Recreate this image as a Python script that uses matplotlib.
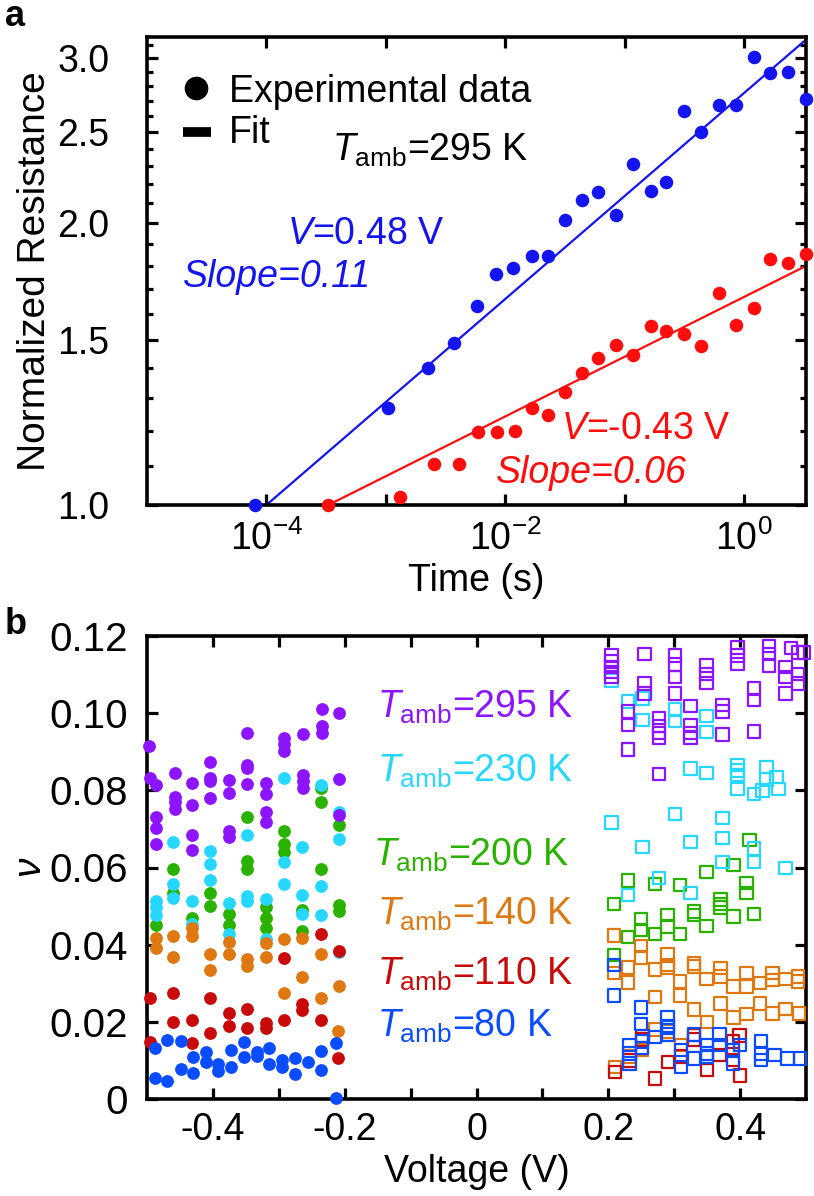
import matplotlib
matplotlib.use('Agg')
import matplotlib.pyplot as plt
from matplotlib.ticker import FixedLocator, NullLocator, NullFormatter

plt.rcParams['font.family'] = ['Liberation Sans', 'DejaVu Sans']
plt.rcParams['mathtext.fontset'] = 'custom'
plt.rcParams['mathtext.rm'] = 'Liberation Sans'
plt.rcParams['mathtext.it'] = 'Liberation Sans:italic'
plt.rcParams['mathtext.bf'] = 'Liberation Sans:bold'

# ---- panel a : normalized resistance vs time (log-log) ----
t_blue = [8.1e-5, 1.05e-3, 2.24e-3, 3.7e-3, 5.75e-3, 8.3e-3, 1.17e-2, 1.66e-2, 2.29e-2, 3.16e-2,
          4.37e-2, 6.03e-2, 8.5e-2, 0.117, 0.166, 0.224, 0.316, 0.437, 0.617, 0.851,
          1.20, 1.66, 2.34, 3.31]
R_blue = [1.00, 1.268, 1.401, 1.490, 1.630, 1.766, 1.789, 1.844, 1.846, 2.014,
          2.118, 2.157, 2.039, 2.314, 2.162, 2.210, 2.634, 2.500, 2.673, 2.673,
          3.005, 2.893, 2.900, 2.710]
t_red = [3.3e-4, 1.32e-3, 2.51e-3, 4.07e-3, 5.89e-3, 8.5e-3, 1.2e-2, 1.66e-2, 2.29e-2, 3.16e-2,
         4.37e-2, 6.03e-2, 8.5e-2, 0.117, 0.166, 0.224, 0.316, 0.437, 0.617, 0.851,
         1.20, 1.66, 2.34, 3.31]
R_red = [1.00, 1.020, 1.107, 1.107, 1.196, 1.196, 1.199, 1.268, 1.249, 1.321,
         1.385, 1.434, 1.482, 1.447, 1.554, 1.535, 1.524, 1.478, 1.683, 1.557,
         1.624, 1.829, 1.811, 1.852]
fit_t_blue = [1e-4, 3.3]
fit_R_blue = [1.0, 3.14]
fit_t_red = [3.3e-4, 3.3]
fit_R_red = [1.0, 1.80]

# ---- panel b : nu vs voltage, one pair of lists per temperature ----
v_neg_295 = [-0.497, -0.495, -0.487, -0.487, -0.487, -0.487, -0.458, -0.458, -0.458, -0.458,
             -0.432, -0.432, -0.432, -0.432, -0.404, -0.404, -0.404, -0.404, -0.376, -0.376,
             -0.376, -0.376, -0.348, -0.348, -0.348, -0.348, -0.320, -0.320, -0.320, -0.320,
             -0.292, -0.292, -0.292, -0.264, -0.264, -0.264, -0.264, -0.235, -0.235, -0.235,
             -0.209, -0.209, -0.209]
nu_neg_295 = [0.0916, 0.0833, 0.0814, 0.0732, 0.0703, 0.0662, 0.0846, 0.0782, 0.0769, 0.0752,
              0.0820, 0.0763, 0.0685, 0.0645, 0.0873, 0.0833, 0.0825, 0.0779, 0.0826, 0.0793,
              0.0694, 0.0679, 0.0949, 0.0865, 0.0857, 0.0816, 0.0818, 0.0790, 0.0745, 0.0718,
              0.0936, 0.0919, 0.0902, 0.0947, 0.0839, 0.0825, 0.0807, 0.1011, 0.0967, 0.0949,
              0.1000, 0.0829, 0.0736]
v_pos_295 = [0.205, 0.205, 0.205, 0.205, 0.205, 0.255, 0.255, 0.255, 0.230, 0.230,
             0.230, 0.301, 0.301, 0.301, 0.301, 0.277, 0.277, 0.277, 0.277, 0.277,
             0.325, 0.325, 0.325, 0.325, 0.349, 0.349, 0.349, 0.373, 0.373, 0.373,
             0.396, 0.396, 0.396, 0.421, 0.421, 0.421, 0.444, 0.444, 0.444, 0.469,
             0.469, 0.469, 0.488, 0.488, 0.488, 0.477, 0.497]
nu_pos_295 = [0.1149, 0.1134, 0.1119, 0.1106, 0.1094, 0.1153, 0.1077, 0.1051, 0.1004, 0.0970,
              0.0906, 0.1149, 0.1126, 0.1094, 0.1051, 0.0987, 0.0966, 0.0949, 0.0936, 0.0843,
              0.1019, 0.0970, 0.0949, 0.0936, 0.1123, 0.1102, 0.1078, 0.1021, 0.1004, 0.0945,
              0.1170, 0.1149, 0.1128, 0.1064, 0.1034, 0.0953, 0.1174, 0.1153, 0.1123, 0.1119,
              0.1094, 0.1051, 0.1157, 0.1102, 0.1077, 0.1169, 0.1157]

v_neg_230 = [-0.487, -0.487, -0.487, -0.460, -0.460, -0.460, -0.432, -0.432, -0.404, -0.404,
             -0.404, -0.376, -0.376, -0.348, -0.348, -0.348, -0.320, -0.320, -0.292, -0.292,
             -0.292, -0.265, -0.265, -0.265, -0.236, -0.236, -0.236, -0.209, -0.209, -0.209]
nu_neg_230 = [0.0512, 0.0497, 0.0478, 0.0665, 0.0557, 0.0521, 0.0512, 0.0454, 0.0642, 0.0610,
              0.0568, 0.0508, 0.0428, 0.0683, 0.0525, 0.0512, 0.0519, 0.0414, 0.0831, 0.0613,
              0.0557, 0.0653, 0.0529, 0.0480, 0.0814, 0.0551, 0.0478, 0.0743, 0.0675, 0.0380]
v_pos_230 = [0.205, 0.230, 0.230, 0.252, 0.252, 0.301, 0.301, 0.325, 0.349, 0.349,
             0.349, 0.396, 0.396, 0.396, 0.396, 0.421, 0.440, 0.440, 0.455, 0.434,
             0.458, 0.205, 0.301, 0.373, 0.252, 0.325, 0.373, 0.421, 0.421, 0.469,
             0.373, 0.277, 0.230, 0.325]
nu_pos_230 = [0.1085, 0.1030, 0.0906, 0.1038, 0.0983, 0.1009, 0.0979, 0.0857, 0.0993, 0.0951,
              0.0845, 0.0866, 0.0851, 0.0840, 0.0804, 0.0791, 0.0861, 0.0828, 0.0834, 0.0800,
              0.0803, 0.0717, 0.0739, 0.0729, 0.0653, 0.0666, 0.0677, 0.0649, 0.0615, 0.0598,
              0.0614, 0.0573, 0.0529, 0.0534]

v_neg_200 = [-0.487, -0.460, -0.460, -0.432, -0.404, -0.404, -0.376, -0.376, -0.348, -0.348,
             -0.348, -0.320, -0.320, -0.320, -0.292, -0.292, -0.292, -0.265, -0.265, -0.236,
             -0.236, -0.236, -0.209, -0.209, -0.209]
nu_neg_200 = [0.0452, 0.0595, 0.0533, 0.0469, 0.0533, 0.0499, 0.0480, 0.0452, 0.0732, 0.0616,
              0.0597, 0.0497, 0.0469, 0.0444, 0.0694, 0.0662, 0.0641, 0.0491, 0.0435, 0.0807,
              0.0769, 0.0596, 0.0709, 0.0504, 0.0487]
v_pos_200 = [0.414, 0.390, 0.349, 0.230, 0.271, 0.309, 0.410, 0.410, 0.209, 0.370,
             0.370, 0.370, 0.330, 0.330, 0.290, 0.390, 0.421, 0.250, 0.250, 0.290,
             0.349, 0.230, 0.271, 0.309, 0.209]
nu_pos_200 = [0.0671, 0.0607, 0.0588, 0.0566, 0.0557, 0.0554, 0.0560, 0.0534, 0.0505, 0.0517,
              0.0505, 0.0496, 0.0486, 0.0477, 0.0477, 0.0473, 0.0479, 0.0466, 0.0438, 0.0447,
              0.0448, 0.0420, 0.0428, 0.0428, 0.0373]

v_neg_140 = [-0.487, -0.487, -0.460, -0.460, -0.432, -0.432, -0.404, -0.404, -0.376, -0.376,
             -0.348, -0.348, -0.320, -0.320, -0.292, -0.292, -0.265, -0.265, -0.236, -0.236,
             -0.209, -0.210]
nu_neg_140 = [0.0418, 0.0392, 0.0422, 0.0369, 0.0444, 0.0422, 0.0375, 0.0335, 0.0408, 0.0375,
              0.0363, 0.0346, 0.0405, 0.0367, 0.0414, 0.0274, 0.0418, 0.0317, 0.0377, 0.0262,
              0.0292, 0.0175]
v_pos_140 = [0.209, 0.250, 0.250, 0.290, 0.290, 0.290, 0.230, 0.209, 0.271, 0.330,
             0.330, 0.370, 0.370, 0.230, 0.309, 0.349, 0.390, 0.410, 0.410, 0.430,
             0.449, 0.449, 0.469, 0.488, 0.488, 0.271, 0.309, 0.370, 0.330, 0.430,
             0.410, 0.449, 0.469, 0.390, 0.350, 0.489, 0.210, 0.232, 0.251, 0.271,
             0.291, 0.310]
nu_pos_140 = [0.0424, 0.0396, 0.0367, 0.0375, 0.0347, 0.0339, 0.0341, 0.0326, 0.0336, 0.0351,
              0.0343, 0.0340, 0.0317, 0.0302, 0.0305, 0.0311, 0.0292, 0.0326, 0.0292, 0.0300,
              0.0326, 0.0309, 0.0311, 0.0317, 0.0305, 0.0265, 0.0268, 0.0247, 0.0232, 0.0247,
              0.0220, 0.0222, 0.0234, 0.0211, 0.0200, 0.0222, 0.0083, 0.0110, 0.0127, 0.0180,
              0.0175, 0.0140]

v_neg_110 = [-0.495, -0.495, -0.460, -0.460, -0.432, -0.432, -0.404, -0.404, -0.376, -0.376,
             -0.348, -0.348, -0.320, -0.320, -0.292, -0.292, -0.265, -0.265, -0.236, -0.236,
             -0.209, -0.210]
nu_neg_110 = [0.0262, 0.0149, 0.0274, 0.0200, 0.0204, 0.0145, 0.0262, 0.0171, 0.0222, 0.0190,
              0.0234, 0.0184, 0.0196, 0.0184, 0.0365, 0.0204, 0.0247, 0.0230, 0.0427, 0.0204,
              0.0384, 0.0107]
v_pos_110 = [0.210, 0.232, 0.251, 0.271, 0.291, 0.310, 0.330, 0.350, 0.369, 0.389,
             0.389, 0.400, 0.252, 0.330, 0.399]
nu_pos_110 = [0.0070, 0.0100, 0.0154, 0.0053, 0.0096, 0.0110, 0.0154, 0.0075, 0.0114, 0.0149,
              0.0101, 0.0061, 0.0164, 0.0166, 0.0165]

v_neg_80 = [-0.488, -0.488, -0.469, -0.469, -0.449, -0.449, -0.430, -0.430, -0.410, -0.410,
            -0.392, -0.392, -0.372, -0.372, -0.353, -0.353, -0.333, -0.333, -0.315, -0.315,
            -0.295, -0.295, -0.276, -0.276, -0.255, -0.236, -0.236, -0.213, -0.213]
nu_neg_80 = [0.0133, 0.0054, 0.0154, 0.0046, 0.0151, 0.0077, 0.0110, 0.0068, 0.0123, 0.0095,
             0.0092, 0.0072, 0.0127, 0.0083, 0.0149, 0.0110, 0.0123, 0.0112, 0.0132, 0.0092,
             0.0101, 0.0083, 0.0105, 0.0066, 0.0096, 0.0125, 0.0075, 0.0145, 0.0002]
v_pos_80 = [0.209, 0.209, 0.250, 0.250, 0.290, 0.290, 0.232, 0.232, 0.232, 0.251,
            0.251, 0.271, 0.291, 0.291, 0.310, 0.310, 0.330, 0.330, 0.350, 0.350,
            0.350, 0.369, 0.369, 0.389, 0.389, 0.400, 0.432, 0.432, 0.432, 0.452,
            0.472, 0.491]
nu_pos_80 = [0.0347, 0.0268, 0.0237, 0.0194, 0.0211, 0.0185, 0.0140, 0.0118, 0.0092, 0.0149,
             0.0132, 0.0160, 0.0189, 0.0167, 0.0083, 0.0127, 0.0167, 0.0105, 0.0140, 0.0118,
             0.0110, 0.0167, 0.0140, 0.0127, 0.0092, 0.0140, 0.0149, 0.0118, 0.0101, 0.0114,
             0.0105, 0.0105]

temps = ['295', '230', '200', '140', '110', '80']
colors = {'295': '#8c14ff', '230': '#26d8ff', '200': '#2ab200',
          '140': '#e07812', '110': '#c80a0a', '80': '#0a4cff'}
label_y = {'295': 0.0989, '230': 0.0822, '200': 0.0605, '140': 0.0451, '110': 0.0296, '80': 0.0162}
label_x = {'295': -0.151, '230': -0.151, '200': -0.157, '140': -0.151, '110': -0.151, '80': -0.151}
neg = {'295': (v_neg_295, nu_neg_295), '230': (v_neg_230, nu_neg_230), '200': (v_neg_200, nu_neg_200),
       '140': (v_neg_140, nu_neg_140), '110': (v_neg_110, nu_neg_110), '80': (v_neg_80, nu_neg_80)}
pos = {'295': (v_pos_295, nu_pos_295), '230': (v_pos_230, nu_pos_230), '200': (v_pos_200, nu_pos_200),
       '140': (v_pos_140, nu_pos_140), '110': (v_pos_110, nu_pos_110), '80': (v_pos_80, nu_pos_80)}
draw_order = ['200', '230', '140', '110', '80', '295']

blue = '#1414f0'
red = '#ff0d0d'

fig = plt.figure(figsize=(8.14, 11.96), dpi=100)

# ================= panel a =================
axa = fig.add_axes([147 / 814, 1 - 505 / 1196, 659 / 814, 468 / 1196])
axa.set_xscale('log')
axa.set_yscale('log')
axa.plot(fit_t_blue, fit_R_blue, color=blue, lw=1.6, zorder=2)
axa.plot(fit_t_red, fit_R_red, color=red, lw=1.6, zorder=2)
axa.scatter(t_blue, R_blue, s=95, color=blue, linewidths=0, clip_on=False, zorder=3)
axa.scatter(t_red, R_red, s=95, color=red, linewidths=0, clip_on=False, zorder=3)
axa.set_xlim(1e-5, 3.3)
axa.set_ylim(1.0, 3.16)

axa.set_xticks([1e-4, 1e-3, 1e-2, 1e-1, 1e0])
axa.set_xticklabels([r'10$^{\mathregular{-4}}$', '', r'10$^{\mathregular{-2}}$', '', r'10$^{\mathregular{0}}$'])
axa.xaxis.set_minor_locator(NullLocator())
axa.set_yticks([1.0, 1.5, 2.0, 2.5, 3.0])
axa.set_yticklabels(['1.0', '1.5', '2.0', '2.5', '3.0'])
axa.yaxis.set_minor_locator(FixedLocator([1.1, 1.2, 1.3, 1.4, 1.6, 1.7, 1.8, 1.9, 2.1, 2.2,
                                          2.3, 2.4, 2.6, 2.7, 2.8, 2.9, 3.1]))
axa.yaxis.set_minor_formatter(NullFormatter())
axa.tick_params(which='both', direction='in', top=True, right=True, width=2.3)
axa.tick_params(which='major', length=8, labelsize=27)
axa.tick_params(which='minor', length=4.5)
axa.tick_params(axis='y', pad=27)
axa.tick_params(axis='x', pad=11)
for sp in axa.spines.values():
    sp.set_linewidth(2.6)
axa.set_xlabel('Time (s)', fontsize=27, labelpad=4)
axa.set_ylabel('Normalized Resistance', fontsize=28, labelpad=3)

# legend drawn by hand
axa.plot([0.075], [0.891], 'o', color='k', ms=16, transform=axa.transAxes)
axa.text(0.125, 0.862, 'Experimental data', fontsize=27, transform=axa.transAxes, va='baseline')
axa.plot([0.054, 0.097], [0.797, 0.797], color='k', lw=7, solid_capstyle='butt', transform=axa.transAxes)
axa.text(0.125, 0.7745, 'Fit', fontsize=27, transform=axa.transAxes, va='baseline')
axa.text(0.281, 0.736, r'$T_{\mathregular{amb}}$=295 K', fontsize=27, transform=axa.transAxes, va='baseline')
axa.text(0.213, 0.557, r'$V$=0.48 V', fontsize=27, color=blue, transform=axa.transAxes, va='baseline')
axa.text(0.055, 0.465, 'Slope=0.11', fontsize=27, style='italic', color=blue,
         transform=axa.transAxes, va='baseline')
axa.text(0.628, 0.140, r'$V$=-0.43 V', fontsize=27, color=red, transform=axa.transAxes, va='baseline')
axa.text(0.530, 0.048, 'Slope=0.06', fontsize=27, style='italic', color=red,
         transform=axa.transAxes, va='baseline')

# ================= panel b =================
axb = fig.add_axes([147 / 814, 1 - 1099 / 1196, 659 / 814, 463 / 1196])
for T in draw_order:
    vn, nn = neg[T]
    axb.scatter(vn, nn, s=85, color=colors[T], linewidths=0, clip_on=False, zorder=3)
for T in draw_order:
    vp, npos = pos[T]
    axb.scatter(vp, npos, s=80, marker='s', facecolors='none', edgecolors=colors[T],
                linewidths=1.6, clip_on=False, zorder=3)
for T in temps:
    axb.text(label_x[T], label_y[T], r'$T_{\mathregular{amb}}$=' + T + ' K', fontsize=27,
             color=colors[T], va='baseline')

axb.set_xlim(-0.5, 0.5)
axb.set_ylim(0, 0.12)
axb.set_xticks([-0.4, -0.2, 0, 0.2, 0.4])
axb.set_xticklabels(['-0.4', '-0.2', '0', '0.2', '0.4'])
axb.xaxis.set_minor_locator(FixedLocator([-0.3, -0.1, 0.1, 0.3]))
axb.set_yticks([0, 0.02, 0.04, 0.06, 0.08, 0.10, 0.12])
axb.set_yticklabels(['0', '0.02', '0.04', '0.06', '0.08', '0.10', '0.12'])
axb.tick_params(which='both', direction='in', top=True, right=True, width=2.3, length=8)
axb.tick_params(axis='y', labelsize=29, pad=14)
axb.tick_params(axis='x', labelsize=27, pad=9)
for sp in axb.spines.values():
    sp.set_linewidth(2.6)
axb.set_xlabel('Voltage (V)', fontsize=27, labelpad=5)
axb.set_ylabel(r'$\nu$', fontsize=28, labelpad=0)

fig.text(0.006, 1 - 17 / 1196, 'a', fontsize=26, fontweight='bold', va='center')
fig.text(0.006, 1 - 624 / 1196, 'b', fontsize=26, fontweight='bold', va='center')

fig.savefig('out.png', dpi=100)
